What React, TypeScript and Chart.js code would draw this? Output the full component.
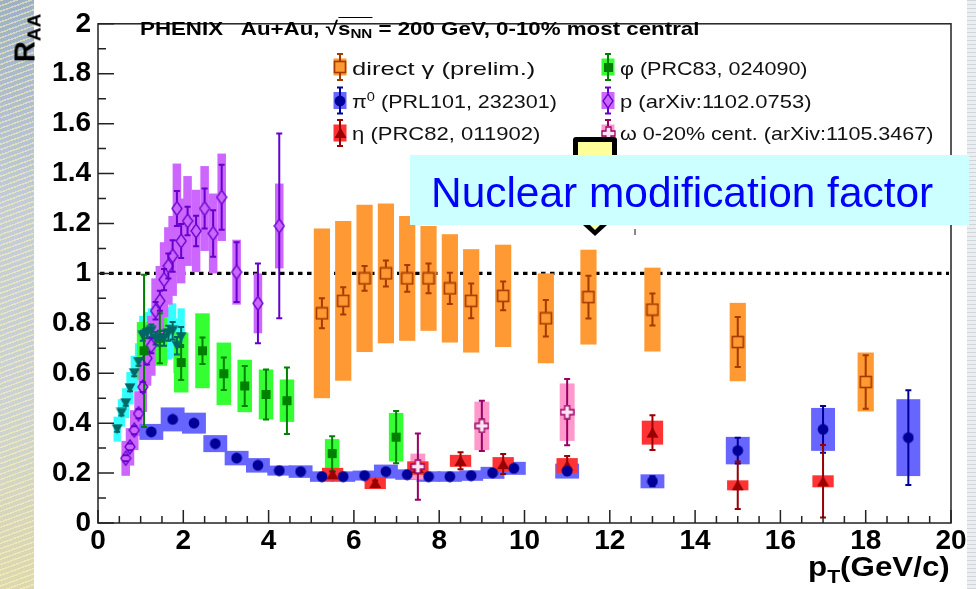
import React, { useEffect, useLayoutEffect, useRef } from "react";
import { Chart, registerables } from "chart.js";

Chart.register(...registerables);

// ---------------- axes ----------------
const X_MIN = 0;
const X_MAX = 20;
const X_STEP = 2;
const Y_MIN = 0;
const Y_MAX = 2;
const Y_STEP = 0.2;
const xTickLabels = ["0", "2", "4", "6", "8", "10", "12", "14", "16", "18", "20"];
const yTickLabels = ["0", "0.2", "0.4", "0.6", "0.8", "1", "1.2", "1.4", "1.6", "1.8", "2"];
const unityLine = 1;

// ---------------- direct photon (prelim.) ----------------
const gammaPt = [5.25, 5.75, 6.25, 6.75, 7.25, 7.75, 8.25, 8.75, 9.5, 10.5, 11.5, 13, 15, 18];
const gammaRaa = [0.84, 0.89, 0.98, 1.0, 0.98, 0.98, 0.94, 0.89, 0.91, 0.82, 0.905, 0.855, 0.725, 0.565];
const gammaStat = [0.06, 0.055, 0.05, 0.052, 0.054, 0.06, 0.063, 0.07, 0.058, 0.073, 0.086, 0.064, 0.1, 0.107];
const gammaSys = [0.34, 0.32, 0.295, 0.28, 0.25, 0.21, 0.217, 0.207, 0.205, 0.18, 0.19, 0.168, 0.157, 0.118];

// ---------------- pi0 ----------------
const pi0Pt = [1.25, 1.75, 2.25, 2.75, 3.25, 3.75, 4.25, 4.75, 5.25, 5.75, 6.25, 6.75, 7.25, 7.75, 8.25, 8.75, 9.25, 9.75, 11, 13, 15, 17, 19];
const pi0Raa = [0.365, 0.415, 0.4, 0.318, 0.26, 0.231, 0.21, 0.206, 0.186, 0.186, 0.19, 0.206, 0.194, 0.186, 0.186, 0.19, 0.201, 0.219, 0.208, 0.167, 0.29, 0.375, 0.342];
const pi0Stat = [0.005, 0.005, 0.005, 0.005, 0.005, 0.005, 0.005, 0.005, 0.005, 0.005, 0.005, 0.006, 0.006, 0.007, 0.008, 0.009, 0.01, 0.012, 0.015, 0.02, 0.052, 0.094, 0.19];
const pi0Sys = [0.032, 0.048, 0.042, 0.034, 0.029, 0.029, 0.02, 0.025, 0.021, 0.021, 0.02, 0.028, 0.021, 0.021, 0.021, 0.021, 0.024, 0.026, 0.03, 0.028, 0.055, 0.086, 0.154];

// ---------------- eta ----------------
const etaPt = [5.5, 6.5, 7.5, 8.5, 9.5, 11, 13, 15, 17];
const etaRaa = [0.195, 0.16, 0.22, 0.249, 0.236, 0.23, 0.362, 0.151, 0.167];
const etaStat = [0.01, 0.01, 0.015, 0.034, 0.04, 0.038, 0.07, 0.095, 0.145];
const etaSys = [0.026, 0.024, 0.027, 0.024, 0.028, 0.03, 0.048, 0.02, 0.024];

// ---------------- phi ----------------
const phiPt = [1.08, 1.45, 1.95, 2.45, 2.95, 3.44, 3.94, 4.43, 5.49, 6.99];
const phiRaa = [0.69, 0.74, 0.643, 0.69, 0.598, 0.549, 0.515, 0.49, 0.278, 0.344];
const phiStat = [0.305, 0.1, 0.07, 0.053, 0.065, 0.08, 0.1, 0.133, 0.07, 0.105];
const phiSys = [0.115, 0.11, 0.12, 0.15, 0.125, 0.105, 0.1, 0.085, 0.058, 0.097];

// ---------------- proton ----------------
const pPt = [0.65, 0.75, 0.85, 0.95, 1.05, 1.15, 1.25, 1.35, 1.45, 1.55, 1.65, 1.75, 1.85, 1.95, 2.1, 2.3, 2.5, 2.7, 2.9, 3.25, 3.75, 4.25];
const pRaa = [0.259, 0.305, 0.372, 0.438, 0.545, 0.66, 0.71, 0.85, 0.89, 0.975, 1.03, 1.07, 1.26, 1.13, 1.21, 1.17, 1.26, 1.16, 1.305, 1.005, 0.88, 1.19];
const pStat = [0.012, 0.014, 0.016, 0.018, 0.02, 0.025, 0.03, 0.035, 0.04, 0.043, 0.05, 0.063, 0.07, 0.068, 0.057, 0.061, 0.08, 0.093, 0.13, 0.12, 0.16, 0.37];
const pSys = [0.07, 0.075, 0.08, 0.09, 0.1, 0.11, 0.12, 0.13, 0.14, 0.15, 0.155, 0.16, 0.18, 0.17, 0.18, 0.165, 0.17, 0.16, 0.175, 0.13, 0.12, 0.17];

// ---------------- omega 0-20% ----------------
const omegaPt = [7.5, 9.0, 11.0];
const omegaRaa = [0.226, 0.389, 0.444];
const omegaStat = [0.133, 0.101, 0.133];
const omegaSys = [0.052, 0.097, 0.115];

// ---------------- unlabelled low-pT hadron band (cyan) ----------------
const hPt = [0.45, 0.55, 0.65, 0.75, 0.85, 0.95, 1.05, 1.15, 1.25, 1.35, 1.45, 1.55, 1.65, 1.75, 1.85, 1.95];
const hRaa = [0.376, 0.441, 0.48, 0.54, 0.6, 0.645, 0.75, 0.76, 0.77, 0.74, 0.74, 0.74, 0.76, 0.77, 0.71, 0.745];
const hStat = [0.01, 0.01, 0.01, 0.012, 0.012, 0.015, 0.02, 0.02, 0.025, 0.025, 0.03, 0.03, 0.03, 0.035, 0.035, 0.04];
const hSys = [0.05, 0.055, 0.06, 0.065, 0.07, 0.075, 0.08, 0.085, 0.09, 0.095, 0.1, 0.1, 0.105, 0.11, 0.11, 0.115];

type MarkerKind = "openSquare" | "circle" | "triangle" | "square" | "openDiamond" | "openCross" | "downTriangle";

interface Series {
  key: string;
  pt: number[];
  raa: number[];
  stat: number[];
  sys: number[];
  halfW: number;
  box: string;
  line: string;
  marker: MarkerKind;
  mfill: string;
  gap: number;
}

const SERIES: Series[] = [
  { key: "h", pt: hPt, raa: hRaa, stat: hStat, sys: hSys, halfW: 0.085, box: "#33ffff", line: "#006666", marker: "downTriangle", mfill: "", gap: 0 },
  { key: "phi", pt: phiPt, raa: phiRaa, stat: phiStat, sys: phiSys, halfW: 0.17, box: "#33ff33", line: "#008000", marker: "square", mfill: "", gap: 0 },
  { key: "p", pt: pPt, raa: pRaa, stat: pStat, sys: pSys, halfW: 0.1, box: "#cc66ff", line: "#6600cc", marker: "openDiamond", mfill: "", gap: 7 },
  { key: "gamma", pt: gammaPt, raa: gammaRaa, stat: gammaStat, sys: gammaSys, halfW: 0.19, box: "#ff9933", line: "#a33a00", marker: "openSquare", mfill: "", gap: 6 },
  { key: "pi0", pt: pi0Pt, raa: pi0Raa, stat: pi0Stat, sys: pi0Sys, halfW: 0.28, box: "#6666ff", line: "#000099", marker: "circle", mfill: "", gap: 0 },
  { key: "omega", pt: omegaPt, raa: omegaRaa, stat: omegaStat, sys: omegaSys, halfW: 0.175, box: "#ff99cc", line: "#990066", marker: "openCross", mfill: "#ffe4f1", gap: 7 },
  { key: "eta", pt: etaPt, raa: etaRaa, stat: etaStat, sys: etaSys, halfW: 0.25, box: "#ff3333", line: "#990000", marker: "triangle", mfill: "", gap: 0 },
];

// legend layout
const legendKeys = ["gamma", "pi0", "eta", "phi", "p", "omega"];
const legendCol = [0, 0, 0, 1, 1, 1];
const legendRow = [0, 1, 2, 0, 1, 2];
const LEG_X = [340, 608];
const LEG_Y = [67, 100.5, 133];
const LEG_TEXT_X = [352, 620];
const LEG_BASE = [75, 108, 140];
const LEG_W = [183, 205, 188, 187, 191, 313];

function makeMarker(kind: MarkerKind, stroke: string, fill: string): HTMLCanvasElement {
  const c = document.createElement("canvas");
  const dims: Record<MarkerKind, [number, number]> = {
    openSquare: [14, 14],
    circle: [12, 12],
    triangle: [13, 12],
    square: [11, 11],
    openDiamond: [12, 16],
    openCross: [15, 15],
    downTriangle: [12, 11],
  };
  const [w, h] = dims[kind];
  c.width = w;
  c.height = h;
  const g = c.getContext("2d")!;
  g.lineJoin = "miter";
  switch (kind) {
    case "openSquare":
      g.strokeStyle = stroke;
      g.lineWidth = 1.6;
      g.strokeRect(1.5, 1.5, 11, 11);
      break;
    case "circle":
      g.fillStyle = stroke;
      g.beginPath();
      g.arc(6, 6, 5.4, 0, Math.PI * 2);
      g.fill();
      break;
    case "triangle":
      g.fillStyle = stroke;
      g.beginPath();
      g.moveTo(6.5, 0.5);
      g.lineTo(12.5, 11);
      g.lineTo(0.5, 11);
      g.closePath();
      g.fill();
      break;
    case "square":
      g.fillStyle = stroke;
      g.fillRect(1, 1, 9, 9);
      break;
    case "openDiamond":
      g.strokeStyle = stroke;
      g.lineWidth = 1.3;
      g.beginPath();
      g.moveTo(6, 1);
      g.lineTo(11, 8);
      g.lineTo(6, 15);
      g.lineTo(1, 8);
      g.closePath();
      g.stroke();
      break;
    case "openCross": {
      const cc = 7.5, a = 2.5, e = 6.5;
      g.beginPath();
      g.moveTo(cc - a, cc - e);
      g.lineTo(cc + a, cc - e);
      g.lineTo(cc + a, cc - a);
      g.lineTo(cc + e, cc - a);
      g.lineTo(cc + e, cc + a);
      g.lineTo(cc + a, cc + a);
      g.lineTo(cc + a, cc + e);
      g.lineTo(cc - a, cc + e);
      g.lineTo(cc - a, cc + a);
      g.lineTo(cc - e, cc + a);
      g.lineTo(cc - e, cc - a);
      g.lineTo(cc - a, cc - a);
      g.closePath();
      g.fillStyle = fill || "#fff";
      g.fill();
      g.strokeStyle = stroke;
      g.lineWidth = 1.3;
      g.stroke();
      break;
    }
    case "downTriangle":
      g.fillStyle = stroke;
      g.beginPath();
      g.moveTo(0.5, 0.5);
      g.lineTo(11.5, 0.5);
      g.lineTo(6, 10.5);
      g.closePath();
      g.fill();
      break;
  }
  return c;
}

function vbar(ctx: CanvasRenderingContext2D, x: number, yTop: number, yBot: number, yc: number, gap: number) {
  ctx.beginPath();
  if (gap > 0) {
    if (yc - gap > yTop) {
      ctx.moveTo(x, yTop);
      ctx.lineTo(x, yc - gap);
    }
    if (yc + gap < yBot) {
      ctx.moveTo(x, yc + gap);
      ctx.lineTo(x, yBot);
    }
  } else {
    ctx.moveTo(x, yTop);
    ctx.lineTo(x, yBot);
  }
  ctx.moveTo(x - 3, yTop);
  ctx.lineTo(x + 3, yTop);
  ctx.moveTo(x - 3, yBot);
  ctx.lineTo(x + 3, yBot);
  ctx.stroke();
}

function Fit(props: { left: number; baseline: number; width: number; size: number; bold?: boolean; color?: string; children: React.ReactNode }) {
  const ref = useRef<HTMLSpanElement | null>(null);
  useLayoutEffect(() => {
    const el = ref.current;
    if (!el) return;
    el.style.transform = "none";
    const w = el.offsetWidth;
    if (w > 0) el.style.transform = `scaleX(${props.width / w})`;
  }, [props.width]);
  return (
    <span
      ref={ref}
      style={{
        position: "absolute",
        left: props.left,
        top: props.baseline - Math.round(props.size * 0.8465),
        fontSize: props.size,
        lineHeight: `${props.size}px`,
        fontWeight: props.bold ? "bold" : "normal",
        color: props.color || "#111",
        whiteSpace: "pre",
        display: "inline-block",
        transformOrigin: "0 0",
      }}
    >
      {props.children}
    </span>
  );
}

const supStyle: React.CSSProperties = { fontSize: "0.68em", lineHeight: 0, verticalAlign: "0.55em" };
const subStyle: React.CSSProperties = { fontSize: "0.68em", lineHeight: 0, verticalAlign: "-0.25em" };

const legendLabels: React.ReactNode[] = [
  "direct γ (prelim.)",
  <>π<span style={supStyle}>0</span> (PRL101, 232301)</>,
  "η (PRC82, 011902)",
  "φ (PRC83, 024090)",
  "p (arXiv:1102.0753)",
  "ω 0-20% cent. (arXiv:1105.3467)",
];

const FONT = '"Liberation Sans", Arial, Helvetica, sans-serif';

export default function App() {
  const canvasRef = useRef<HTMLCanvasElement | null>(null);

  useEffect(() => {
    const canvas = canvasRef.current;
    if (!canvas) return;
    const markerImg: Record<string, HTMLCanvasElement> = {};
    SERIES.forEach((s) => {
      markerImg[s.key] = makeMarker(s.marker, s.line, s.mfill);
    });

    const rootPlugin = {
      id: "rootStyle",
      beforeDatasetsDraw(chart: any) {
        const { ctx, scales } = chart;
        const x = scales.x;
        const y = scales.y;
        ctx.save();
        // dotted unity line
        ctx.strokeStyle = "#000";
        ctx.lineWidth = 3.2;
        ctx.setLineDash([4.5, 4.5]);
        ctx.beginPath();
        const yu = y.getPixelForValue(unityLine);
        ctx.moveTo(x.getPixelForValue(X_MIN) + 2, yu);
        ctx.lineTo(x.getPixelForValue(X_MAX) - 2, yu);
        ctx.stroke();
        ctx.setLineDash([]);
        // systematic boxes
        SERIES.forEach((s) => {
          ctx.fillStyle = s.box;
          s.pt.forEach((p, i) => {
            const xl = x.getPixelForValue(p - s.halfW);
            const xr = x.getPixelForValue(p + s.halfW);
            const yt = y.getPixelForValue(s.raa[i] + s.sys[i]);
            const yb = y.getPixelForValue(s.raa[i] - s.sys[i]);
            ctx.fillRect(xl, yt, xr - xl, yb - yt);
          });
        });
        // statistical bars
        SERIES.forEach((s) => {
          ctx.strokeStyle = s.line;
          ctx.lineWidth = 2;
          s.pt.forEach((p, i) => {
            const px = x.getPixelForValue(p);
            const yt = y.getPixelForValue(s.raa[i] + s.stat[i]);
            const yb = y.getPixelForValue(s.raa[i] - s.stat[i]);
            const yc = y.getPixelForValue(s.raa[i]);
            vbar(ctx, px, yt, yb, yc, s.gap);
          });
        });
        ctx.restore();
      },
      afterDraw(chart: any) {
        const { ctx, chartArea: a, scales } = chart;
        const x = scales.x;
        const y = scales.y;
        ctx.save();
        // frame
        ctx.strokeStyle = "#222";
        ctx.lineWidth = 1.5;
        ctx.strokeRect(a.left, a.top, a.right - a.left, a.bottom - a.top);
        // inward ticks
        ctx.beginPath();
        for (let v = X_MIN; v <= X_MAX + 1e-9; v += X_STEP / 4) {
          const px = x.getPixelForValue(v);
          const major = Math.abs(v / X_STEP - Math.round(v / X_STEP)) < 1e-6;
          const len = major ? 13 : 7;
          ctx.moveTo(px, a.bottom);
          ctx.lineTo(px, a.bottom - len);
        }
        for (let v = Y_MIN; v <= Y_MAX + 1e-9; v += Y_STEP / 2) {
          const py = y.getPixelForValue(v);
          const major = Math.abs(v / Y_STEP - Math.round(v / Y_STEP)) < 1e-6;
          const len = major ? 16 : 8;
          ctx.moveTo(a.left, py);
          ctx.lineTo(a.left + len, py);
        }
        ctx.stroke();
        // legend samples
        legendKeys.forEach((k, i) => {
          const s = SERIES.find((q) => q.key === k)!;
          const cx = LEG_X[legendCol[i]];
          const cy = LEG_Y[legendRow[i]];
          ctx.fillStyle = s.box;
          ctx.fillRect(cx - 6.5, cy - 8.5, 13, 17);
          ctx.strokeStyle = s.line;
          ctx.lineWidth = 2;
          vbar(ctx, cx, cy - 13, cy + 13, cy, s.gap);
          const img = markerImg[k];
          ctx.drawImage(img, Math.round(cx - img.width / 2), Math.round(cy - img.height / 2));
        });
        ctx.restore();
      },
    };

    const datasets = SERIES.map((s) => ({
      label: s.key,
      data: s.pt.map((p, i) => ({ x: p, y: s.raa[i] })),
      pointStyle: markerImg[s.key],
      pointRadius: 6,
      pointBorderWidth: 0,
      showLine: false,
    }));

    const tickFont = { family: FONT, weight: "bold" as const, size: 28 };

    const chart = new Chart(canvas, {
      type: "scatter",
      data: { datasets },
      options: {
        animation: false,
        responsive: false,
        events: [],
        layout: { padding: { left: 0, right: 25, top: 11, bottom: 0 }, autoPadding: false },
        plugins: { legend: { display: false }, tooltip: { enabled: false } },
        scales: {
          x: {
            type: "linear",
            position: "bottom",
            min: X_MIN,
            max: X_MAX,
            grid: { display: false, drawTicks: false },
            border: { display: false },
            ticks: {
              stepSize: X_STEP,
              autoSkip: false,
              maxRotation: 0,
              minRotation: 0,
              padding: 1,
              color: "#000",
              font: tickFont,
              callback: (v: any) => xTickLabels[Math.round(Number(v) / X_STEP)] ?? "",
            },
            afterFit: (s: any) => {
              s.height = 66;
            },
          },
          y: {
            type: "linear",
            min: Y_MIN,
            max: Y_MAX,
            grid: { display: false, drawTicks: false },
            border: { display: false },
            ticks: {
              stepSize: Y_STEP,
              autoSkip: false,
              padding: 7,
              color: "#000",
              font: tickFont,
              callback: (v: any) => yTickLabels[Math.round(Number(v) / Y_STEP)] ?? "",
            },
            afterFit: (s: any) => {
              s.width = 98;
            },
          },
        },
      } as any,
      plugins: [rootPlugin],
    });
    return () => chart.destroy();
  }, []);

  return (
    <div
      style={{
        position: "absolute",
        left: 0,
        top: 0,
        width: 976,
        height: 589,
        overflow: "hidden",
        background: "#fff",
        fontFamily: FONT,
      }}
    >
      <div
        style={{
          position: "absolute",
          left: 0,
          top: 0,
          width: 34,
          height: 589,
          background:
            "repeating-linear-gradient(160deg, rgba(255,246,180,0.55) 0px, rgba(255,246,180,0.55) 1.5px, rgba(0,0,0,0) 1.5px, rgba(0,0,0,0) 5px), linear-gradient(180deg, #9db0c6 0%, #c3ccd8 35%, #cdd3d3 70%, #ddd8b0 100%)",
        }}
      />
      <div
        style={{
          position: "absolute",
          left: 967,
          top: 0,
          width: 9,
          height: 589,
          background:
            "repeating-linear-gradient(0deg, rgba(190,196,204,0.6) 0px, rgba(190,196,204,0.6) 1px, rgba(0,0,0,0) 1px, rgba(0,0,0,0) 4px), #eceff2",
        }}
      />
      <canvas ref={canvasRef} width={976} height={589} style={{ position: "absolute", left: 0, top: 0 }} />

      {/* title */}
      <Fit left={140} baseline={35} width={560} size={19} bold color="#000">
        {"PHENIX   Au+Au, "}
        <span>√</span>
        <span style={{ borderTop: "1.6px solid #000", paddingTop: 0 }}>
          s<span style={subStyle}>NN</span>
        </span>
        {" = 200 GeV, 0-10% most central"}
      </Fit>

      {/* legend texts */}
      {legendLabels.map((lab, i) => (
        <Fit key={i} left={LEG_TEXT_X[legendCol[i]]} baseline={LEG_BASE[legendRow[i]]} width={LEG_W[i]} size={19}>
          {lab}
        </Fit>
      ))}

      {/* axis titles */}
      <div
        style={{
          position: "absolute",
          left: 25,
          top: 38,
          transform: "translate(-50%, -50%) rotate(-90deg)",
          fontWeight: "bold",
          fontSize: 29,
          lineHeight: "29px",
          whiteSpace: "nowrap",
          color: "#000",
        }}
      >
        R<span style={{ fontSize: 19, lineHeight: 0, verticalAlign: "-0.3em" }}>AA</span>
      </div>
      <Fit left={808} baseline={577} width={142} size={28} bold color="#000">
        p<span style={{ fontSize: 19, lineHeight: 0, verticalAlign: "-0.35em" }}>T</span>(GeV/c)
      </Fit>

      {/* callout */}
      <div
        style={{
          position: "absolute",
          left: 573,
          top: 137,
          width: 44,
          height: 30,
          boxSizing: "border-box",
          border: "5px solid #000",
          borderRadius: 3,
          background: "#ffff99",
        }}
      />
      <div style={{ position: "absolute", left: 410, top: 155, width: 559, height: 70, background: "#ccffff" }} />
      <Fit left={431} baseline={208} width={502} size={42} color="#0000ff">
        Nuclear modification factor
      </Fit>
      <div
        style={{
          position: "absolute",
          left: 583,
          top: 225,
          width: 0,
          height: 0,
          borderLeft: "12.5px solid transparent",
          borderRight: "12.5px solid transparent",
          borderTop: "11px solid #000",
        }}
      />
      <div
        style={{
          position: "absolute",
          left: 590,
          top: 225,
          width: 0,
          height: 0,
          borderLeft: "5.5px solid transparent",
          borderRight: "5.5px solid transparent",
          borderTop: "5px solid #ffff99",
        }}
      />
      <div style={{ position: "absolute", left: 634, top: 229, width: 1.5, height: 6, background: "#888" }} />
    </div>
  );
}
